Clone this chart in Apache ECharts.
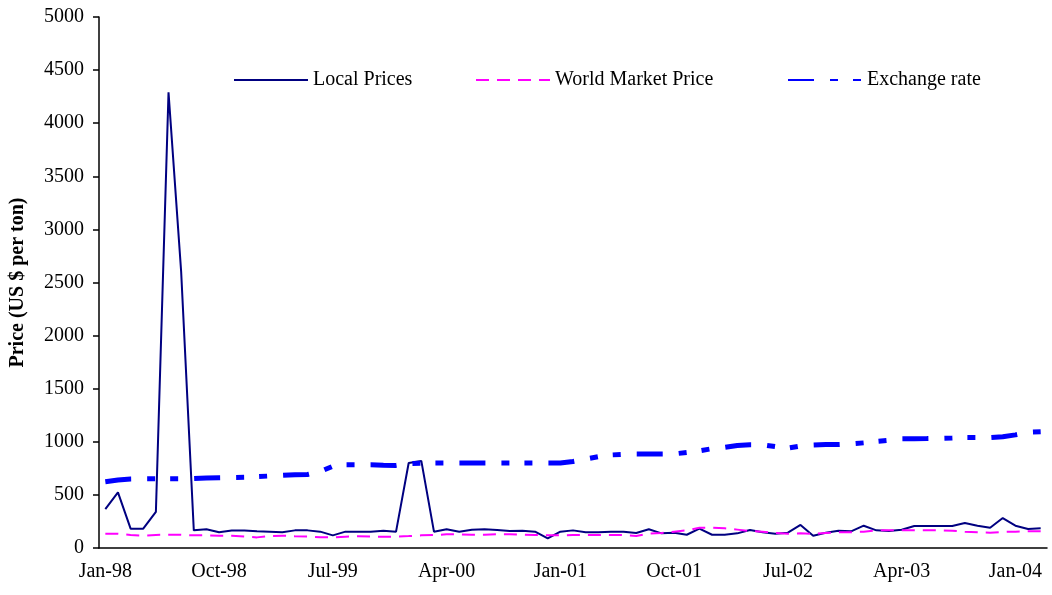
<!DOCTYPE html>
<html>
<head>
    <meta charset="utf-8">
    <title>Prices chart</title>
    <script src="https://cdn.jsdelivr.net/npm/echarts@6/dist/echarts.min.js"></script>
</head>
<body style="margin: 0; background: #fff;">
<div id="chart" style="width: 1052px; height: 595px;"></div>
<script>
    // months Jan-98 .. Mar-04
    var monthNames = ['Jan', 'Feb', 'Mar', 'Apr', 'May', 'Jun', 'Jul', 'Aug', 'Sep', 'Oct', 'Nov', 'Dec'];
    var months = [];
    for (var y = 1998; y <= 2004; y++) {
        for (var m = 0; m < 12; m++) {
            if (y === 2004 && m > 2) break;
            months.push(monthNames[m] + '-' + String(y).slice(2));
        }
    }

    var localPrices = [367, 524, 182, 182, 340, 4290, 2600, 166, 176, 148, 165, 165, 157, 154, 148, 166, 166, 154, 119,
        154, 154, 154, 163, 154, 800, 820, 154, 176, 154, 172, 176, 170, 160, 163, 154, 91, 154, 166, 148, 148, 154, 154,
        141, 176, 138, 144, 125, 182, 125, 125, 138, 170, 148, 135, 144, 217, 116, 144, 163, 157, 210, 166, 160, 172, 207,
        207, 207, 207, 235, 210, 191, 282, 210, 179, 185];

    var worldPrice = [135, 135, 123, 116, 123, 125, 125, 119, 119, 116, 116, 107, 100, 112, 116, 110, 107, 102, 100,
        107, 110, 107, 107, 107, 112, 119, 122, 129, 129, 125, 125, 129, 129, 125, 122, 119, 119, 122, 122, 122, 122, 122,
        113, 135, 141, 154, 166, 191, 191, 185, 173, 160, 154, 141, 135, 138, 132, 141, 148, 148, 154, 166, 166, 168, 166,
        166, 166, 163, 154, 148, 144, 151, 154, 157, 157];

    var exchangeRate = [624, 640, 650, 652, 652, 652, 652, 655, 660, 662, 664, 666, 672, 678, 684, 690, 692, 720, 770,
        785, 785, 785, 780, 778, 795, 798, 800, 800, 800, 800, 800, 800, 800, 800, 800, 800, 800, 815, 838, 860, 876, 882,
        885, 885, 885, 886, 900, 915, 935, 948, 965, 972, 972, 955, 940, 960, 970, 975, 975, 980, 990, 1004, 1015, 1028, 1029,
        1030, 1032, 1035, 1040, 1040, 1040, 1048, 1065, 1090, 1095];

    var font = "'Liberation Serif', 'Times New Roman', serif";
    var chart = echarts.init(document.getElementById('chart'));

    // one legend per item, placed where the original has them
    function legendAt(name, left) {
        return {
            data: [name],
            left: left,
            top: 70,
            padding: 0,
            itemWidth: 74,
            itemHeight: 14,
            itemStyle: { opacity: 0 },
            textStyle: { fontFamily: font, fontSize: 20, color: '#000' }
        };
    }

    var option = {
        animation: false,
        backgroundColor: '#fff',
        legend: [
            legendAt('Local Prices', 233),
            legendAt('World Market Price', 475),
            legendAt('Exchange rate', 787)
        ],
        grid: { left: 99, right: 5, top: 17, bottom: 47, outerBoundsMode: 'none', containLabel: false },
        xAxis: {
            type: 'category',
            data: months,
            boundaryGap: true,
            axisLine: { lineStyle: { color: '#000', width: 1.5 } },
            axisTick: { interval: 8, length: 6, lineStyle: { color: '#000', width: 1.5 } },
            axisLabel: { interval: 8, margin: 14, color: '#000', fontFamily: font, fontSize: 20 },
            splitLine: { show: false }
        },
        yAxis: {
            type: 'value',
            min: 0,
            max: 5000,
            interval: 500,
            name: 'Price (US $ per ton)',
            nameLocation: 'middle',
            nameGap: 71,
            nameTextStyle: { fontFamily: font, fontSize: 20, fontWeight: 'bold', color: '#000' },
            axisLine: { show: true, lineStyle: { color: '#000', width: 1.5 } },
            axisTick: { show: true, length: 6, lineStyle: { color: '#000', width: 1.5 } },
            axisLabel: {
                margin: 15, color: '#000', fontFamily: font, fontSize: 20,
                formatter: function (v) { return String(v); }
            },
            splitLine: { show: false }
        },
        series: [
            {
                name: 'Local Prices',
                type: 'line',
                data: localPrices,
                symbol: 'none',
                color: '#000080',
                lineStyle: { color: '#000080', width: 2 }
            },
            {
                name: 'World Market Price',
                type: 'line',
                data: worldPrice,
                symbol: 'none',
                color: '#ff00ff',
                lineStyle: { color: '#ff00ff', width: 2, type: [13, 8] }
            },
            {
                name: 'Exchange rate',
                type: 'line',
                data: exchangeRate,
                symbol: 'none',
                color: '#0000ff',
                lineStyle: { color: '#0000ff', width: 5, type: [26, 16, 8, 15, 8, 16] }
            }
        ]
    };
    chart.setOption(option);
</script>
</body>
</html>
